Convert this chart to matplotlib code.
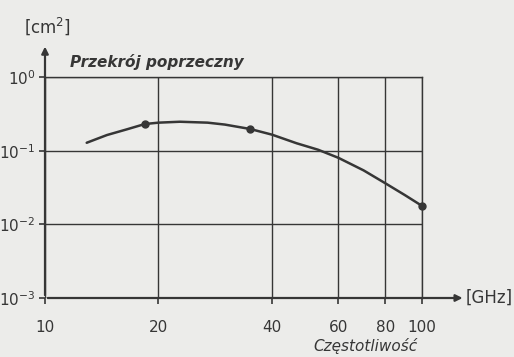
import numpy as np
import matplotlib.pyplot as plt

# values
freq = [12.9, 13.7, 14.6, 16.5, 18.4, 20, 22.8, 27, 30, 35, 40, 46.5, 53, 60, 70, 80, 90, 100]
sigma = [0.128, 0.144, 0.163, 0.195, 0.23, 0.24, 0.247, 0.24, 0.226, 0.197, 0.165, 0.126,
         0.103, 0.080, 0.054, 0.036, 0.025, 0.0178]
dot_freq = [18.4, 35, 100]
dot_sigma = [0.23, 0.197, 0.0178]
xticks = [10, 20, 40, 60, 80, 100]
yticks = [1e-3, 1e-2, 1e-1, 1e0]
ylabels = [r'$10^{-3}$', r'$10^{-2}$', r'$10^{-1}$', r'$10^{0}$']

ink = '#363636'
paper = '#ececea'
W, H = 514, 357

fig = plt.figure(figsize=(W / 100, H / 100), dpi=100, facecolor=paper)
ax = fig.add_axes([45 / W, 59 / H, 377 / W, 221 / H])
ax.set_facecolor(paper)

ax.plot(freq, sigma, color=ink, lw=1.8, solid_capstyle='round', solid_joinstyle='round')
ax.plot(dot_freq, dot_sigma, 'o', color=ink, ms=5, clip_on=False)

ax.set_xscale('log')
ax.set_yscale('log')
ax.set_xlim(10, 100)
ax.set_ylim(1e-3, 1)
ax.set_xticks(xticks)
ax.set_xticklabels([str(t) for t in xticks])
ax.set_yticks(yticks)
ax.set_yticklabels(ylabels)
ax.minorticks_off()
ax.tick_params(colors=ink, labelcolor=ink, labelsize=11, length=4, width=1.2)
ax.tick_params(axis='x', pad=12)
ax.tick_params(axis='y', pad=3)
ax.grid(True, color=ink, lw=1.0)

for side in ['top', 'right']:
    ax.spines[side].set_color(ink)
    ax.spines[side].set_linewidth(1.0)
for side in ['left', 'bottom']:
    ax.spines[side].set_visible(False)

# axes with arrows
ax.annotate('', xy=(1.115, 0), xytext=(0, 0), xycoords='axes fraction',
            arrowprops=dict(arrowstyle='-|>', color=ink, lw=1.6, mutation_scale=10))
ax.annotate('', xy=(0, 1.15), xytext=(0, 0), xycoords='axes fraction',
            arrowprops=dict(arrowstyle='-|>', color=ink, lw=1.6, mutation_scale=10))

fig.text(47 / W, 1 - 26 / H, r'[cm$^2$]', color=ink, fontsize=12, ha='center', va='center')
fig.text(70 / W, 1 - 62 / H, 'Przekrój poprzeczny', color=ink, fontsize=11,
         style='italic', weight='bold', ha='left', va='center')
fig.text(466 / W, 1 - 298 / H, '[GHz]', color=ink, fontsize=12, ha='left', va='center')
fig.text(365 / W, 1 - 346 / H, 'Częstotliwość', color=ink, fontsize=11,
         style='italic', ha='center', va='center')

fig.savefig('out.png', dpi=100, facecolor=paper)
